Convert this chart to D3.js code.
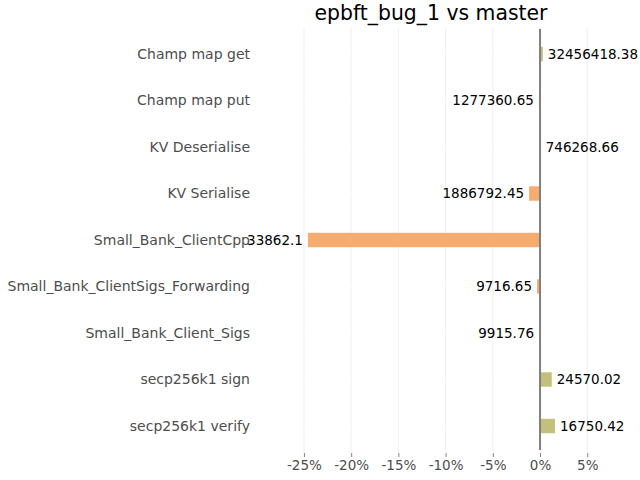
<!DOCTYPE html>
<html>
<head>
<meta charset="utf-8">
<script src="https://cdn.jsdelivr.net/npm/d3@7"></script>
<style>
  html, body { margin: 0; padding: 0; background: #ffffff; }
  svg { display: block; font-family: "DejaVu Sans", sans-serif; }
</style>
</head>
<body>
<svg id="chart" width="640" height="480"></svg>
<script>
const title = "epbft_bug_1 vs master";
const categories = [
  "Champ map get",
  "Champ map put",
  "KV Deserialise",
  "KV Serialise",
  "Small_Bank_ClientCpp",
  "Small_Bank_ClientSigs_Forwarding",
  "Small_Bank_Client_Sigs",
  "secp256k1 sign",
  "secp256k1 verify"
];
const changePct = [0.3, -0.12, 0.08, -1.16, -24.58, -0.32, -0.1, 1.24, 1.59];
const valueLabels = [
  "32456418.38", "1277360.65", "746268.66", "1886792.45", "33862.1",
  "9716.65", "9915.76", "24570.02", "16750.42"
];
const xTicks = [-25, -20, -15, -10, -5, 0, 5];

const svg = d3.select("#chart");
const panel = { left: 252, right: 610, top: 28, bottom: 452 };

const x = d3.scaleLinear().domain([-30.5, 7.41]).range([panel.left, panel.right]);
const y = d3.scalePoint().domain(categories).range([54, 426]);
const barH = 14.4;

// vertical gridlines
svg.append("g").selectAll("line").data(xTicks).join("line")
  .attr("x1", d => x(d)).attr("x2", d => x(d))
  .attr("y1", panel.top).attr("y2", panel.bottom)
  .attr("stroke", "#efefef").attr("stroke-width", 1);

// horizontal (white) gridlines
svg.append("g").selectAll("line").data(categories).join("line")
  .attr("x1", panel.left).attr("x2", panel.right)
  .attr("y1", d => y(d)).attr("y2", d => y(d))
  .attr("stroke", "#ffffff").attr("stroke-width", 1);

// bars
const rows = categories.map((c, i) => ({ c, v: changePct[i], lab: valueLabels[i] }));
svg.append("g").selectAll("rect").data(rows).join("rect")
  .attr("x", d => Math.min(x(0), x(d.v)))
  .attr("width", d => Math.abs(x(d.v) - x(0)))
  .attr("y", d => y(d.c) - barH / 2)
  .attr("height", barH)
  .attr("fill", d => d.v >= 0 ? "#c4bf7b" : "#f4ad6e");

// zero line
svg.append("line")
  .attr("x1", x(0)).attr("x2", x(0))
  .attr("y1", 29).attr("y2", 450)
  .attr("stroke", "#808080").attr("stroke-width", 2);

// value labels
svg.append("g").selectAll("text").data(rows).join("text")
  .attr("x", d => d.v >= 0 ? x(d.v) + 5 : x(d.v) - 5)
  .attr("y", d => y(d.c))
  .attr("dy", "0.35em")
  .attr("text-anchor", d => d.v >= 0 ? "start" : "end")
  .attr("font-size", 13.5)
  .attr("fill", "#000000")
  .text(d => d.lab);

// y axis labels
const yAxis = d3.axisLeft(y).tickSize(0).tickPadding(2);
const gy = svg.append("g").attr("transform", `translate(${panel.left},0)`).call(yAxis);
gy.select(".domain").remove();
gy.selectAll("text").attr("font-size", 14).attr("fill", "#4d4d4d")
  .attr("font-family", "DejaVu Sans, sans-serif");

// x axis
const xAxis = d3.axisBottom(x).tickValues(xTicks).tickSize(4).tickPadding(3)
  .tickFormat(d => d + "%");
const gx = svg.append("g").attr("transform", `translate(0,${panel.bottom + 1})`).call(xAxis);
gx.select(".domain").remove();
gx.selectAll("line").attr("stroke", "#333333").attr("stroke-opacity", 0.6);
gx.selectAll("text").attr("font-size", 13.5).attr("fill", "#4d4d4d")
  .attr("font-family", "DejaVu Sans, sans-serif");

// title
svg.append("text")
  .attr("x", (panel.left + panel.right) / 2)
  .attr("y", 20)
  .attr("text-anchor", "middle")
  .attr("font-size", 20.4)
  .attr("fill", "#000000")
  .text(title);
</script>
</body>
</html>
